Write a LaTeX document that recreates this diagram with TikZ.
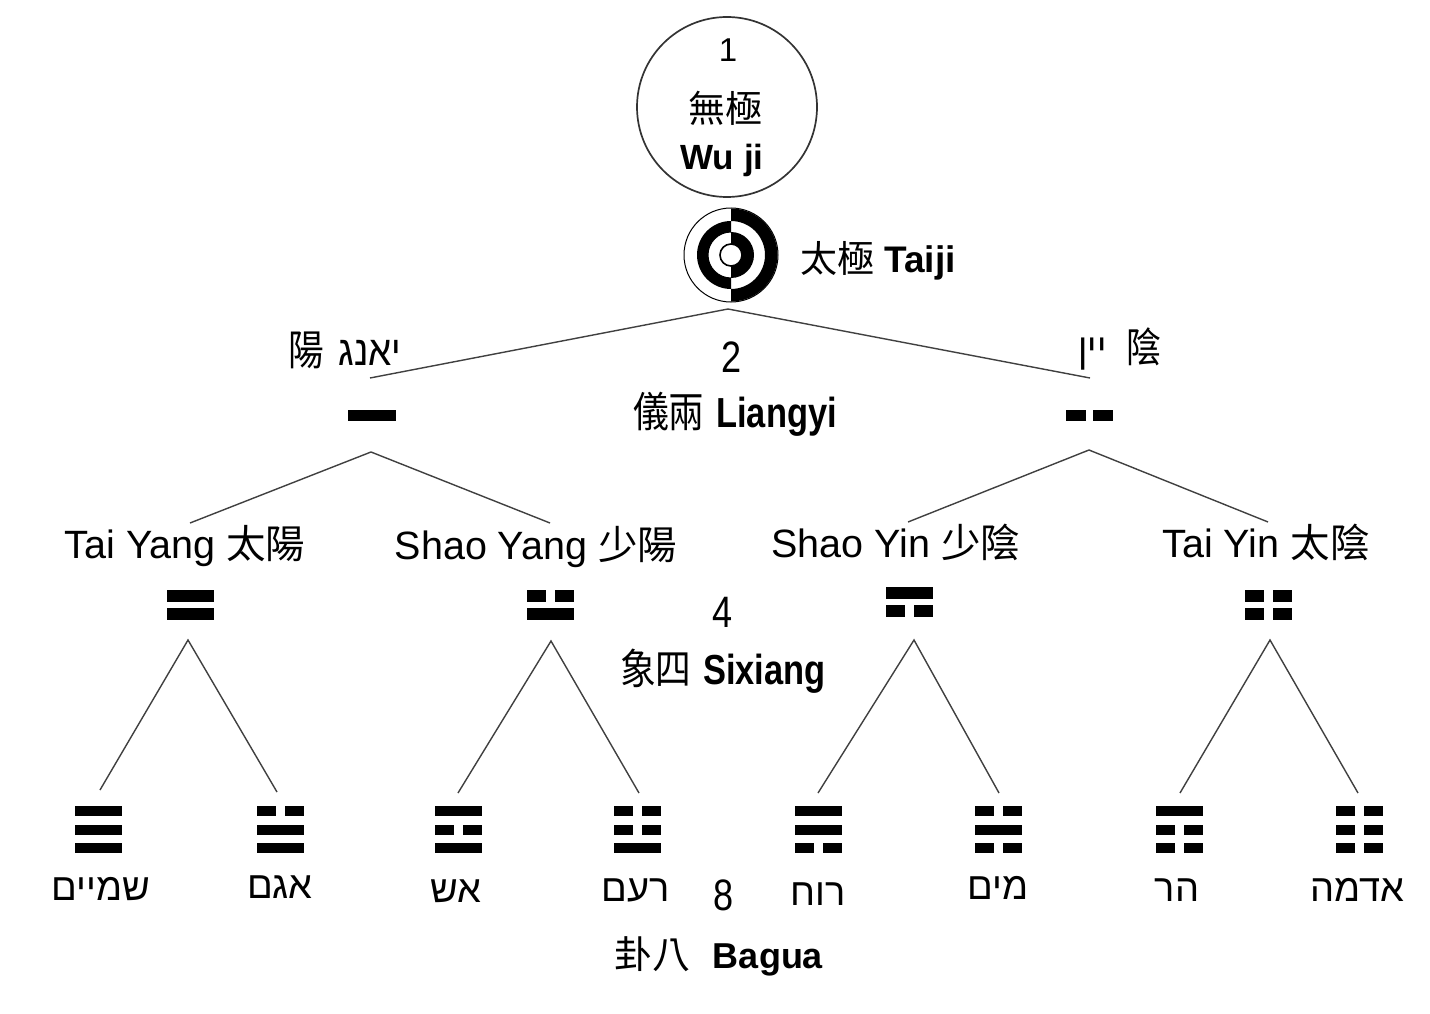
\documentclass[tikz,border=0pt]{standalone}
\usepackage{fontspec}
\setmainfont{Liberation Sans}
\newfontfamily\cjk{Noto Sans CJK TC}
\newfontfamily\cjkn[FakeStretch=0.85]{Noto Sans CJK TC}
\newfontfamily\narrowf[FakeStretch=0.82]{Liberation Sans}
\newfontfamily\heb[Script=Hebrew]{Liberation Sans}
\newfontfamily\hebn[Script=Hebrew,FakeStretch=0.88]{Liberation Sans}
\TeXXeTstate=1
% bar: x, y(top), width, height, type (s/b), gap
\newcommand\gbar[6]{\if#5s\fill ({#1},{#2}) rectangle ++({#3},{#4});\else
 \fill ({#1},{#2}) rectangle ++({(#3-#6)/2},{#4});
 \fill ({#1+(#3+#6)/2},{#2}) rectangle ++({(#3-#6)/2},{#4});\fi}
\newcommand\gua[5]{\gbar{#1}{#2}{47}{10}{#3}{9}\gbar{#1}{#2+18.5}{47}{10}{#4}{9}\gbar{#1}{#2+37}{47}{10}{#5}{9}}
\newcommand\digram[4]{\gbar{#1}{#2}{47}{12}{#3}{9}\gbar{#1}{#2+18}{47}{12}{#4}{9}}
\begin{document}
\begin{tikzpicture}[x=1pt,y=-1pt,
  conn/.style={draw=black!75, line width=1.4pt},
  lbl/.style={inner sep=0pt, anchor=base},
  sixl/.style={lbl, font=\fontsize{39.5}{42}\selectfont},
  hebl/.style={lbl, font=\heb\fontsize{38}{40}\selectfont},
  numl/.style={lbl, font=\narrowf\fontsize{44}{46}\selectfont}]
\useasboundingbox[fill=white] (0,0) rectangle (1430,1014);

% Wu ji
\node[circle, draw=black!80, line width=1.7pt, minimum size=180pt, inner sep=0pt] (wuji) at (727,107) {};
\node[lbl, font=\fontsize{33}{35}\selectfont] (one) at (728,62) {1};
\node[inner sep=0pt, font=\cjk\fontsize{37}{39}\selectfont] (wujicn) at (725,108) {無極};
\node[lbl, font=\bfseries\fontsize{35}{38}\selectfont] (wujien) at (722,170) {Wu ji};

% Taiji symbol
\node[circle, draw, line width=1pt, minimum size=94pt, inner sep=0pt] (taiji) at (731,255) {};
\begin{scope}[shift={(731,255)}, x=1pt, y=1pt]
  \fill (90:46.5) arc[start angle=90, end angle=-90, radius=46.5] -- (-90:34) arc[start angle=-90, end angle=90, radius=34] -- cycle;
  \fill (90:34) arc[start angle=90, end angle=270, radius=34] -- (270:22.5) arc[start angle=270, end angle=90, radius=22.5] -- cycle;
  \fill (90:23) arc[start angle=90, end angle=-90, radius=23] -- (-90:11) arc[start angle=-90, end angle=90, radius=11] -- cycle;
  \draw[line width=1.6pt, fill=white] (0,0) circle[radius=11];
\end{scope}
\node[lbl, font=\fontsize{37}{40}\selectfont] (taijil) at (878,272) {{\cjk 太極} \textbf{Taiji}};

% Liangyi
\node[lbl, font=\fontsize{42}{44}\selectfont] (yangl) at (345,365) {{\cjkn 陽}\hspace{14pt}{\hebn\beginR יאנג\endR}};
\node[lbl, font=\fontsize{41}{43}\selectfont] (yinl) at (1120,362) {{\hebn\beginR יין\endR}\hspace{20pt}{\cjkn 陰}};
\node[numl] (two) at (732,372) {2};
\node[lbl, font=\fontsize{42}{44}\selectfont] (liangyi) at (735,427) {{\cjkn 儀兩} {\narrowf\bfseries Liangyi}};
\fill (348,410) rectangle (396,421);
\fill (1066,410) rectangle (1086,421);
\fill (1093,410) rectangle (1113,421);

% Sixiang labels
\node[sixl] (taiyang) at (185,558) {Tai Yang {\cjk 太陽}};
\node[sixl] (shaoyang) at (536,559) {Shao Yang {\cjk 少陽}};
\node[sixl] (shaoyin) at (896,557) {Shao Yin {\cjk 少陰}};
\node[sixl] (taiyin) at (1266,557) {Tai Yin {\cjk 太陰}};
\node[numl] (four) at (723,627) {4};
\node[lbl, font=\fontsize{42}{44}\selectfont] (sixiang) at (723,684) {{\cjkn 象四} {\narrowf\bfseries Sixiang}};
\digram{167}{590}{s}{s}
\digram{527}{590}{b}{s}
\digram{886}{587}{s}{b}
\digram{1245}{590}{b}{b}

% Bagua
\gua{75}{806}{s}{s}{s}
\gua{257}{806}{b}{s}{s}
\gua{435}{806}{s}{b}{s}
\gua{614}{806}{b}{b}{s}
\gua{795}{806}{s}{s}{b}
\gua{975}{806}{b}{s}{b}
\gua{1156}{806}{s}{b}{b}
\gua{1336}{806}{b}{b}{b}
\node[hebl] (h1) at (101,900) {\beginR שמיים\endR};
\node[hebl] (h2) at (280,898) {\beginR אגם\endR};
\node[hebl] (h3) at (456,902) {\beginR אש\endR};
\node[hebl] (h4) at (636,901) {\beginR רעם\endR};
\node[hebl] (h5) at (818,905) {\beginR רוח\endR};
\node[hebl] (h6) at (998,899) {\beginR מים\endR};
\node[hebl] (h7) at (1177,901) {\beginR הר\endR};
\node[hebl] (h8) at (1357,901) {\beginR אדמה\endR};
\node[numl] (eight) at (724,910) {8};
\node[lbl, font=\fontsize{36}{40}\selectfont] (bagua) at (719,968) {{\cjk\fontsize{38}{40}\selectfont 卦八}\hspace{22pt}{\bfseries Bagua}};

% connector end points
\coordinate (t0) at (728,309);
\coordinate (lyA) at (370,378);
\coordinate (lyB) at (1090,378);
\coordinate (yA) at (371,452);
\coordinate (yB) at (1089,450);
\coordinate (s1t) at (190,523);
\coordinate (s2t) at (550,523);
\coordinate (s3t) at (908,522);
\coordinate (s4t) at (1268,522);
\coordinate (s1b) at (188,640);
\coordinate (s2b) at (551,641);
\coordinate (s3b) at (914,640);
\coordinate (s4b) at (1270,640);
\coordinate (g1) at (100,790);
\coordinate (g2) at (277,792);
\coordinate (g3) at (458,793);
\coordinate (g4) at (639,793);
\coordinate (g5) at (818,793);
\coordinate (g6) at (999,793);
\coordinate (g7) at (1180,793);
\coordinate (g8) at (1358,793);

\draw[conn] (lyA) -- (t0) -- (lyB);
\draw[conn] (s1t) -- (yA) -- (s2t);
\draw[conn] (s3t) -- (yB) -- (s4t);
\draw[conn] (g1) -- (s1b) -- (g2);
\draw[conn] (g3) -- (s2b) -- (g4);
\draw[conn] (g5) -- (s3b) -- (g6);
\draw[conn] (g7) -- (s4b) -- (g8);
\end{tikzpicture}
\end{document}
